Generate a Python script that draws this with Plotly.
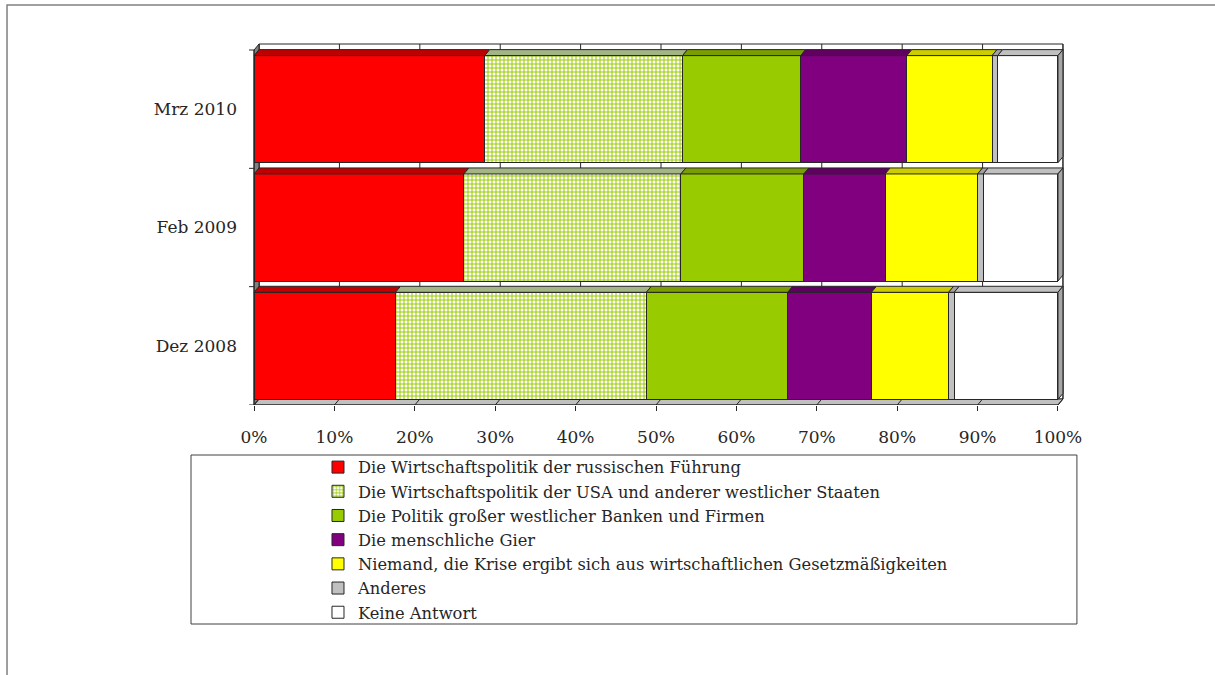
import plotly.graph_objects as go

# Survey waves (bottom to top) and answer shares in percent
waves = ["Dez 2008", "Feb 2009", "Mrz 2010"]

russische_fuehrung = [17.6, 26.1, 28.7]
usa_westen = [31.2, 27.0, 24.6]
banken_firmen = [17.6, 15.3, 14.7]
menschliche_gier = [10.4, 10.1, 13.2]
niemand = [9.6, 11.5, 10.6]
anderes = [0.7, 0.7, 0.7]
keine_antwort = [12.9, 9.3, 7.5]

series_names = [
    "Die Wirtschaftspolitik der russischen Führung",
    "Die Wirtschaftspolitik der USA und anderer westlicher Staaten",
    "Die Politik großer westlicher Banken und Firmen",
    "Die menschliche Gier",
    "Niemand, die Krise ergibt sich aus wirtschaftlichen Gesetzmäßigkeiten",
    "Anderes",
    "Keine Antwort",
]
series_values = [russische_fuehrung, usa_westen, banken_firmen, menschliche_gier,
                 niemand, anderes, keine_antwort]
face_colors = ["#FF0000", "#FFFFFF", "#99CC00", "#800080", "#FFFF00", "#C0C0C0", "#FFFFFF"]
top_colors = ["#C00000", "#A3B585", "#7A9E00", "#600060", "#CCCC00", "#A0A0A0", "#C0C0C0"]

# Figure geometry (pixels)
W_FIG, H_FIG = 1215, 675
PX_PER_PCT = 8.04
M_L, M_T, M_B = 246, 42, 270
X_RANGE = [-1, 101]
PLOT_W = (X_RANGE[1] - X_RANGE[0]) * PX_PER_PCT
M_R = W_FIG - M_L - PLOT_W
PLOT_H = H_FIG - M_T - M_B
Y_TOP_EXT = 0.0676
Y_RANGE = [-0.5, 2.5 + Y_TOP_EXT]
PX_PER_CAT = PLOT_H / (Y_RANGE[1] - Y_RANGE[0])
BAR_W = 0.905

# depth of the pseudo-3D faces, converted to axis units
DX = 5 / PX_PER_PCT
DY = 6 / PX_PER_CAT

EDGE = "#262626"
FONT = "DejaVu Serif"


def xp(px):
    return (px - M_L) / PLOT_W


def yp(py):
    return (M_T + PLOT_H - py) / PLOT_H


fig = go.Figure()

for i, (name, vals) in enumerate(zip(series_names, series_values)):
    marker = dict(color=face_colors[i], line=dict(color=EDGE, width=1))
    if i == 1:
        marker["pattern"] = dict(shape="+", fgcolor="#99CC00", bgcolor="#FFFFFF",
                                 size=4, solidity=0.45, fillmode="replace")
    fig.add_trace(go.Bar(
        y=waves, x=vals, name=name, orientation="h", marker=marker,
        width=BAR_W, hoverinfo="x+name",
    ))

shapes = []

# back wall with its grid
shapes.append(dict(type="rect", xref="x", yref="y", layer="below",
                   x0=DX, x1=100 + DX, y0=-0.5 + DY, y1=2.5 + DY,
                   fillcolor="white", line=dict(color=EDGE, width=1)))
for k in range(0, 101, 10):
    shapes.append(dict(type="line", xref="x", yref="y", layer="below",
                       x0=k + DX, x1=k + DX, y0=-0.5 + DY, y1=2.5 + DY,
                       line=dict(color=EDGE, width=1)))

# left wall
shapes.append(dict(type="path", xref="x", yref="y", layer="below",
                   path=f"M 0,-0.5 L 0,2.5 L {DX},{2.5 + DY} L {DX},{-0.5 + DY} Z",
                   fillcolor="#808080", line=dict(color=EDGE, width=1)))

# floor with slanted tick marks
shapes.append(dict(type="path", xref="x", yref="y", layer="below",
                   path=f"M 0,-0.5 L 100,-0.5 L {100 + DX},{-0.5 + DY} L {DX},{-0.5 + DY} Z",
                   fillcolor="#C0C0C0", line=dict(color=EDGE, width=1)))
for k in range(0, 101, 10):
    shapes.append(dict(type="line", xref="x", yref="y", layer="below",
                       x0=k, x1=k + DX, y0=-0.5, y1=-0.5 + DY,
                       line=dict(color=EDGE, width=1)))

# category separators on the left edge
for b in [-0.5, 0.5, 1.5, 2.5]:
    shapes.append(dict(type="line", xref="x", yref="y", layer="above",
                       x0=-5 / PX_PER_PCT, x1=0, y0=b, y1=b,
                       line=dict(color=EDGE, width=1)))

# top faces of every segment and right face of each bar
for j in range(len(waves)):
    top = j + BAR_W / 2
    bot = j - BAR_W / 2
    left = 0.0
    for i, vals in enumerate(series_values):
        right = left + vals[j]
        shapes.append(dict(
            type="path", xref="x", yref="y", layer="above",
            path=(f"M {left},{top} L {right},{top} L {right + DX},{top + DY} "
                  f"L {left + DX},{top + DY} Z"),
            fillcolor=top_colors[i], line=dict(color=EDGE, width=1)))
        left = right
    shapes.append(dict(
        type="path", xref="x", yref="y", layer="above",
        path=(f"M {left},{bot} L {left},{top} L {left + DX},{top + DY} "
              f"L {left + DX},{bot + DY} Z"),
        fillcolor="#A6A6A6", line=dict(color=EDGE, width=1)))

# front axis lines
shapes.append(dict(type="line", xref="x", yref="y", layer="above",
                   x0=0, x1=0, y0=-0.5, y1=2.5, line=dict(color=EDGE, width=1)))
shapes.append(dict(type="line", xref="x", yref="y", layer="above",
                   x0=0, x1=100, y0=-0.5, y1=-0.5, line=dict(color=EDGE, width=1)))

# legend frame and outer chart frame
shapes.append(dict(type="rect", xref="paper", yref="paper",
                   x0=xp(191), x1=xp(1077), y0=yp(624), y1=yp(455),
                   line=dict(color="#404040", width=1), fillcolor="rgba(0,0,0,0)"))
shapes.append(dict(type="rect", xref="paper", yref="paper",
                   x0=xp(7), x1=xp(1240), y0=yp(700), y1=yp(5),
                   line=dict(color="#808080", width=1.5), fillcolor="rgba(0,0,0,0)"))

fig.update_layout(
    width=W_FIG, height=H_FIG,
    margin=dict(l=M_L, r=M_R, t=M_T, b=M_B, pad=0),
    barmode="stack",
    paper_bgcolor="white", plot_bgcolor="white",
    font=dict(family=FONT, size=17, color="#262626"),
    shapes=shapes,
    showlegend=True,
    legend=dict(
        x=xp(318), xanchor="left", y=yp(450), yanchor="top",
        traceorder="normal", bgcolor="rgba(0,0,0,0)", borderwidth=0,
        font=dict(family=FONT, size=16.3, color="#262626"),
    ),
    xaxis=dict(
        range=X_RANGE, tickmode="array", tickvals=list(range(0, 101, 10)),
        ticktext=[f"{v}%" for v in range(0, 101, 10)],
        ticks="outside", ticklen=5, tickcolor=EDGE, showgrid=False,
        showline=False, zeroline=False, ticklabelstandoff=12,
        tickfont=dict(family=FONT, size=17),
    ),
    yaxis=dict(
        range=Y_RANGE, type="category", categoryorder="array", categoryarray=waves,
        ticks="", showgrid=False, showline=False, zeroline=False,
        ticklabelstandoff=8, tickfont=dict(family=FONT, size=17),
    ),
)

fig.write_html("out.html")
